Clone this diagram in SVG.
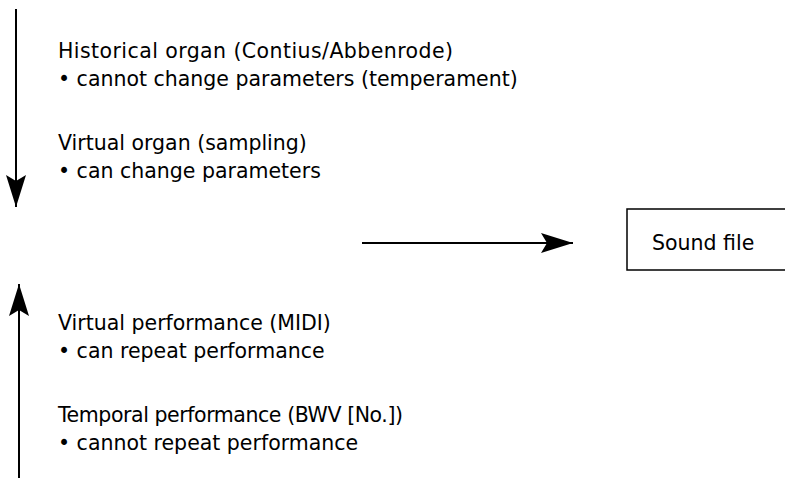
<svg xmlns="http://www.w3.org/2000/svg" width="785" height="478" viewBox="0 0 785 478">
<style>
text{font-family:"DejaVu Sans","Open Sans",sans-serif;font-size:20.5px;fill:#000}
.ln{stroke:#000;stroke-width:2;fill:none}
</style>
<defs>
<marker id="ah" markerWidth="32" markerHeight="20" refX="32" refY="10" orient="auto" markerUnits="userSpaceOnUse">
<path d="M0,0 L32,10 L0,20 L6,10 Z" fill="#000"/>
</marker>
</defs>
<rect width="785" height="478" fill="#fff"/>
<g id="connectors">
<line class="ln" x1="16" y1="9" x2="16" y2="207" marker-end="url(#ah)"/>
<line class="ln" x1="19" y1="478" x2="19" y2="284" marker-end="url(#ah)"/>
<line class="ln" x1="362" y1="243" x2="573" y2="243" marker-end="url(#ah)"/>
</g>
<g id="organ">
<text x="58" y="58" textLength="395" lengthAdjust="spacing">Historical organ (Contius/Abbenrode)</text>
<text x="58" y="86">• cannot change parameters (temperament)</text>
<text x="58" y="150">Virtual organ (sampling)</text>
<text x="58" y="178">• can change parameters</text>
</g>
<g id="performance">
<text x="58" y="330">Virtual performance (MIDI)</text>
<text x="58" y="358">• can repeat performance</text>
<text x="58" y="422" textLength="345" lengthAdjust="spacing">Temporal performance (BWV [No.])</text>
<text x="58" y="450">• cannot repeat performance</text>
</g>
<g id="sound-file">
<rect x="627" y="209" width="170" height="61" fill="#fff" stroke="#000" stroke-width="1.5"/>
<text x="652" y="250">Sound file</text>
</g>
</svg>
